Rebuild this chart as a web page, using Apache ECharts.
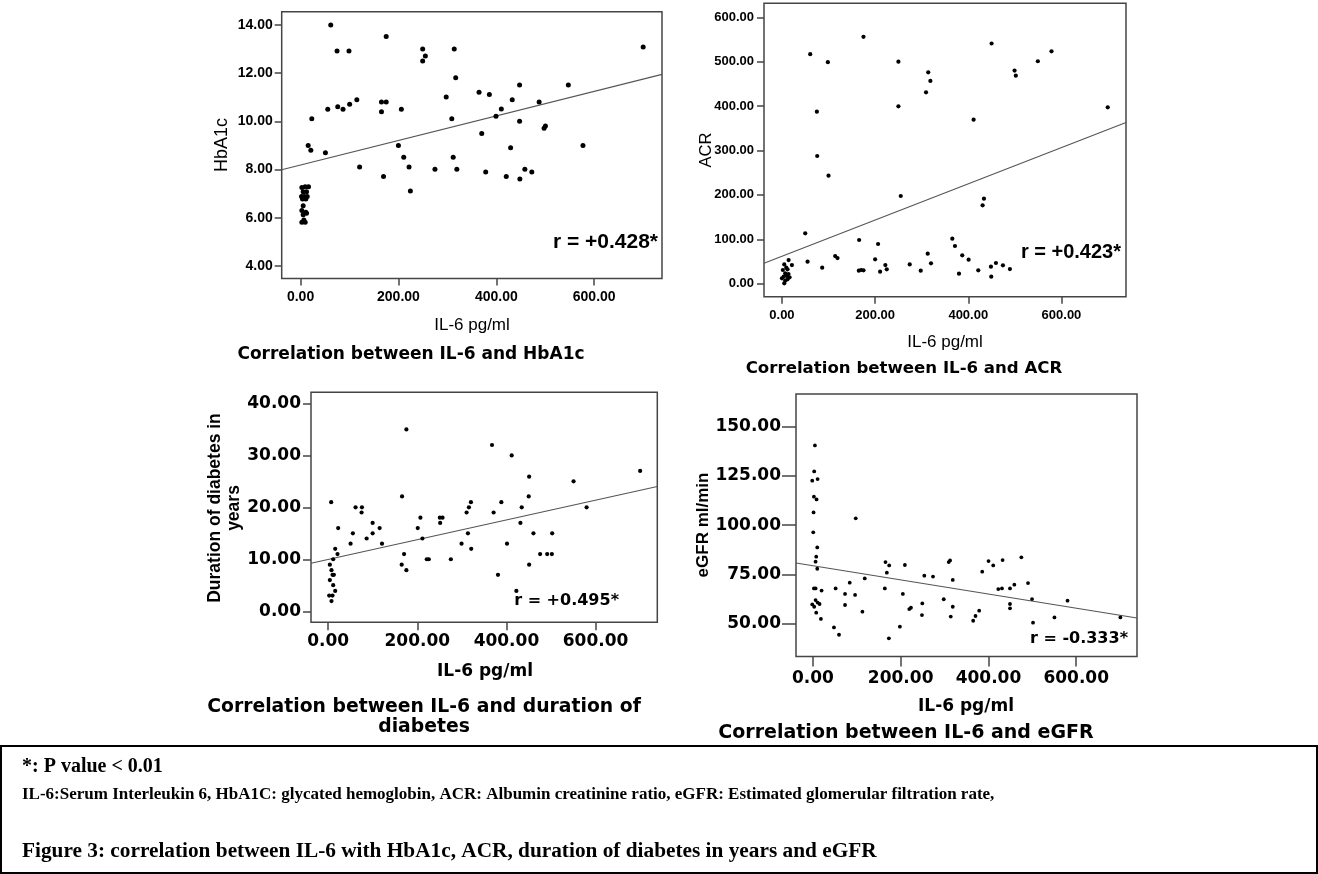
<!DOCTYPE html>
<html><head><meta charset="utf-8">
<script src="https://cdn.jsdelivr.net/npm/echarts@6/dist/echarts.min.js"></script>
<style>html,body{margin:0;padding:0;background:#fff}#c{width:1318px;height:874px}</style>
</head><body><div id="c"></div>
<script>
// ---------- data ----------
const xRange = [-38.5, 738.5];
const xTicks = [0, 200, 400, 600];
const hba1cTicks = [4, 6, 8, 10, 12, 14];
const acrTicks = [0, 100, 200, 300, 400, 500, 600];
const durTicks = [0, 10, 20, 30, 40];
const egfrTicks = [50, 75, 100, 125, 150];
const hba1cRange = [3.48, 14.55];
const acrRange = [-29.3, 631.5];
const durRange = [-2.04, 42.25];
const egfrRange = [33.35, 166.6];

const hba1cPoints = [
  [61.7,14.0],[74.6,12.92],[99,12.92],[175,13.52],[249.5,13.0],[249.5,12.5],[255,12.71],[314,13.0],[317,11.81],
  [23,10.11],[15.6,9.0],[21,8.8],[55.6,10.5],[76,10.61],[86.8,10.5],[100.3,10.71],[115,10.9],[50.8,8.7],
  [120.7,8.11],[165.4,10.8],[175,10.8],[165.4,10.4],[169.5,7.71],[206,10.5],[200,9.0],[210.8,8.51],
  [221.7,8.11],[224.4,7.11],[274.6,8.01],[297.6,11.01],[309,10.11],[311.9,8.51],[319.3,8.01],[364.7,11.21],
  [370.2,9.5],[378.3,7.9],[385.8,11.11],[399.3,10.21],[410.2,10.51],[429.2,8.91],[432.5,10.9],[420.3,7.71],
  [447.5,11.51],[447.5,10.0],[448.1,7.61],[458.3,8.01],[472.5,7.9],[487.5,10.8],[497.6,9.71],[500.3,9.81],
  [547.1,11.51],[577,9.0],[700,13.09],
  [2.7,7.26],[9.5,7.29],[16.3,7.29],[5.4,7.08],[12.2,7.08],[2,6.88],[7.5,6.88],[13.6,6.88],[4,6.78],
  [10.8,6.78],[5.4,6.5],[2.7,6.3],[10.8,6.23],[5.4,6.12],[12.2,6.19],[6.8,5.91],[2.7,5.81],[9.5,5.81]
];
const acrPoints = [
  [60.7,517],[98.6,499],[175,556],[250,500],[250,399.5],[314,476],[318.6,456.6],[309.3,431],[75,387.5],
  [75.7,287.6],[100,243.3],[255,197.5],[450,541],[549.3,501],[578.6,523.4],[499.3,480],[502,468.6],
  [411.4,369.5],[699.3,397.2],[433.6,191.5],[430.7,176.5],[50,113.4],[55,49.6],[86.4,36],[114.3,62.3],
  [119.3,57.8],[165.7,98.4],[165,29.3],[170,30.8],[175,30],[206.4,89.4],[200,54.8],[210.7,27],[222,42],
  [225,32.3],[274.3,43.5],[297.9,29.3],[312.9,67.6],[320,45.8],[365.7,101.4],[371.4,84.9],[387,63.8],
  [400.7,54],[380,22.5],[421.4,30],[448.6,38.3],[449.3,15.8],[459.3,46.6],[474.3,41.3],[489.3,33],
  [14.3,53.3],[21.4,42],[5,43.5],[9.3,36],[12,32.3],[2,30.8],[7,23.3],[14,21.8],[3.6,15.8],[10.7,17.3],
  [16.4,14.3],[0,12],[7,6.8],[5,0.8],[12,9.8]
];
const durPoints = [
  [175.5,35.1],[367.6,32.1],[411.8,30.1],[450.9,26.0],[550.6,25.1],[579.9,20.1],[450,22.2],[165.8,22.2],
  [6.8,21.1],[61.5,20.1],[75.8,20.1],[75,19.1],[99.8,17.1],[99.8,15.1],[115.5,16.1],[120.8,13.1],[86.3,14.1],
  [55.5,15.1],[50.3,13.1],[22.5,16.1],[21,11.1],[15.8,12.1],[170.3,11.1],[165,9.05],[175.5,8.0],[201,16.1],
  [207,18.1],[211.5,14.1],[221.3,10.1],[225.8,10.1],[250.6,18.1],[251.3,17.1],[256.6,18.1],[275.3,10.1],
  [299.3,13.1],[310.6,19.1],[315.8,20.1],[320.3,21.1],[313.6,15.1],[321,12.1],[371.3,19.1],[381,7.1],
  [388.6,21.1],[401.3,13.1],[422.3,4.0],[434.3,20.1],[431.4,17.1],[450.9,9.05],[460.6,15.1],[475.6,11.1],
  [491.4,11.1],[501.9,11.1],[502.6,15.1],[700,27.1],
  [11.3,10.1],[3.8,9.05],[7.5,8.0],[9.8,7.1],[12.8,7.1],[3.8,6.1],[11.3,5.1],[15.8,4.0],[2.3,3.1],[9.8,3.1],[7.5,2.05]
];
const egfrPoints = [
  [4.6,140.5],[3,127.3],[-1.5,122.6],[10.7,123.4],[2.3,114.5],[8.4,113.1],[1.5,106.5],[0.8,96.4],[97.6,103.5],
  [9.9,88.7],[7.6,84.0],[6.1,81.5],[9.9,77.9],[2.3,67.9],[6.1,67.9],[19.8,66.8],[-1.5,59.8],[3,58.6],[6.1,62],
  [10.7,60.7],[15.2,60],[7.6,55.6],[18.3,52.4],[51.8,67.9],[73.2,65.1],[83.9,70.8],[96.1,64.6],[73.2,59.5],
  [48,48.1],[59.5,44.4],[112.8,56.1],[118.2,73],[165.4,81.3],[173.8,79.6],[168.5,75.9],[163.9,67.9],
  [173.1,42.6],[209.6,79.8],[205,65.1],[198.2,48.5],[219.6,57.4],[223.4,58.1],[249.3,60.3],[248.5,54.4],
  [253.9,74.4],[273.7,73.9],[298.1,62.4],[309.5,81.3],[312.6,82.1],[318.7,72.2],[318.7,58.6],[314.1,53.6],
  [365.2,51.5],[370.5,53.9],[378.9,56.6],[385.8,76.4],[400.2,81.8],[410.9,79.6],[432.3,82.3],[422.4,67.6],
  [430.8,67.9],[449.1,67.9],[459,69.8],[449.1,60],[449.1,57.8],[475,83.7],[490.2,70.6],[499.3,62.5],
  [501.6,50.5],[550.4,53.2],[580.2,61.7],[700.6,53.2]
];
// fitted regression lines (end points at the frame edges)
const hba1cFit = [[-38.5, 7.99], [738.5, 11.95]];
const acrFit = [[-38.5, 46], [738.5, 363]];
const durFit = [[-38.5, 9.33], [738.5, 24.1]];
const egfrFit = [[-38.5, 80.8], [738.5, 52.9]];

// ---------- layout ----------
const ARIAL = '"Liberation Sans", Arial, sans-serif';
const DEJA = '"DejaVu Sans", sans-serif';
const panels = [
  {grid:{left:281.7, top:11.7, width:380.3, height:266.8}, y:hba1cRange, yt:hba1cTicks, pts:hba1cPoints, fit:hba1cFit,
   font:ARIAL, fs:14, tick:7, xm:12, ym:9, sym:5},
  {grid:{left:764, top:3.3, width:362, height:293.4}, y:acrRange, yt:acrTicks, pts:acrPoints, fit:acrFit,
   font:ARIAL, fs:13, tick:7, xm:12, ym:10, sym:4.2},
  {grid:{left:311, top:392.3, width:346.3, height:230}, y:durRange, yt:durTicks, pts:durPoints, fit:durFit,
   font:DEJA, fs:17, tick:8, xm:11, ym:10, sym:4.2},
  {grid:{left:796, top:394, width:341, height:262.5}, y:egfrRange, yt:egfrTicks, pts:egfrPoints, fit:egfrFit,
   font:DEJA, fs:17, tick:10, xm:14, ym:15, sym:3.8, ytick:14}
];

const grids = [], xAxes = [], yAxes = [], series = [];
panels.forEach((p, i) => {
  grids.push(Object.assign({show:true, borderColor:'#454545', borderWidth:1.5, backgroundColor:'transparent',
    containLabel:false, outerBoundsMode:'none'}, p.grid));
  const lab = {fontFamily:p.font, fontWeight:'bold', fontSize:p.fs, color:'#000', formatter:v=>Number(v).toFixed(2)};
  xAxes.push({gridIndex:i, type:'value', min:xRange[0], max:xRange[1], splitLine:{show:false},
    axisLine:{show:false, onZero:false},
    axisTick:{show:true, length:p.tick, customValues:xTicks, lineStyle:{color:'#454545', width:1.5}},
    axisLabel:Object.assign({customValues:xTicks, margin:p.xm}, lab)});
  yAxes.push({gridIndex:i, type:'value', min:p.y[0], max:p.y[1], splitLine:{show:false},
    axisLine:{show:false, onZero:false},
    axisTick:{show:true, length:p.ytick || p.tick, customValues:p.yt, lineStyle:{color:'#454545', width:1.5}},
    axisLabel:Object.assign({customValues:p.yt, margin:p.ym}, lab)});
  series.push({type:'line', xAxisIndex:i, yAxisIndex:i, data:p.fit, symbol:'none', silent:true,
    lineStyle:{color:'#555', width:1.1}, z:2});
  series.push({type:'scatter', xAxisIndex:i, yAxisIndex:i, data:p.pts, symbolSize:p.sym, silent:true,
    itemStyle:{color:'#000', opacity:1}, z:3});
});

function txt(x, y, text, font, size, weight, extra) {
  return Object.assign({type:'text', x:x, y:y, silent:true,
    style:{text:text, fontFamily:font, fontSize:size, fontWeight:weight, fill:'#000', align:'center', verticalAlign:'middle'}}, extra || {});
}
function rtxt(x, y, text, font, size, weight) {
  const t = txt(x, y, text, font, size, weight);
  t.style.align = 'right';
  return t;
}
function ltxt(x, y, text, font, size, weight) {
  const t = txt(x, y, text, font, size, weight);
  t.style.align = 'left';
  return t;
}
const SERIF = '"Liberation Serif", "Times New Roman", serif';
const durName = txt(225, 508, 'Duration of diabetes in\nyears', ARIAL, 17.5, 'bold', {rotation:Math.PI/2});
durName.style.lineHeight = 19;
const graphic = [
  // axis names
  txt(222.5, 145, 'HbA1c', ARIAL, 18, 'normal', {rotation:Math.PI/2}),
  txt(472, 325, 'IL-6 pg/ml', ARIAL, 17, 'normal'),
  txt(706, 150, 'ACR', ARIAL, 16.5, 'normal', {rotation:Math.PI/2}),
  txt(945, 342, 'IL-6 pg/ml', ARIAL, 17, 'normal'),
  durName,
  txt(485, 672, 'IL-6 pg/ml', DEJA, 17, 'bold'),
  txt(703.5, 525, 'eGFR ml/min', ARIAL, 17, 'bold', {rotation:Math.PI/2}),
  txt(966, 707, 'IL-6 pg/ml', DEJA, 17, 'bold'),
  // r values
  rtxt(658, 242, 'r = +0.428*', ARIAL, 21, 'bold'),
  rtxt(1121, 252, 'r = +0.423*', ARIAL, 20, 'bold'),
  rtxt(619, 601, 'r = +0.495*', DEJA, 16, 'bold'),
  rtxt(1128, 639, 'r = -0.333*', DEJA, 16, 'bold'),
  // panel captions
  txt(411, 355, 'Correlation between IL-6 and HbA1c', DEJA, 17, 'bold'),
  txt(904, 369, 'Correlation between IL-6 and ACR', DEJA, 16.6, 'bold'),
  txt(424, 707, 'Correlation between IL-6 and duration of', DEJA, 18.8, 'bold'),
  txt(424, 727, 'diabetes', DEJA, 18.8, 'bold'),
  txt(906, 733, 'Correlation between IL-6 and eGFR', DEJA, 19, 'bold'),
  // footer box
  {type:'rect', silent:true, shape:{x:1, y:746, width:1316, height:127}, style:{fill:'none', stroke:'#000', lineWidth:2}},
  ltxt(22, 767, '*: P value < 0.01', SERIF, 20, 'bold'),
  ltxt(22, 795, 'IL-6:Serum Interleukin 6, HbA1C: glycated hemoglobin, ACR: Albumin creatinine ratio, eGFR: Estimated glomerular filtration rate,', SERIF, 17, 'bold'),
  ltxt(22, 851, 'Figure 3: correlation between IL-6 with HbA1c, ACR, duration of diabetes in years and eGFR', SERIF, 21.3, 'bold')
];

const chart = echarts.init(document.getElementById('c'), null, {renderer:'canvas'});
chart.setOption({
  animation:false,
  backgroundColor:'#fff',
  grid:grids, xAxis:xAxes, yAxis:yAxes, series:series, graphic:graphic
});
</script></body></html>
